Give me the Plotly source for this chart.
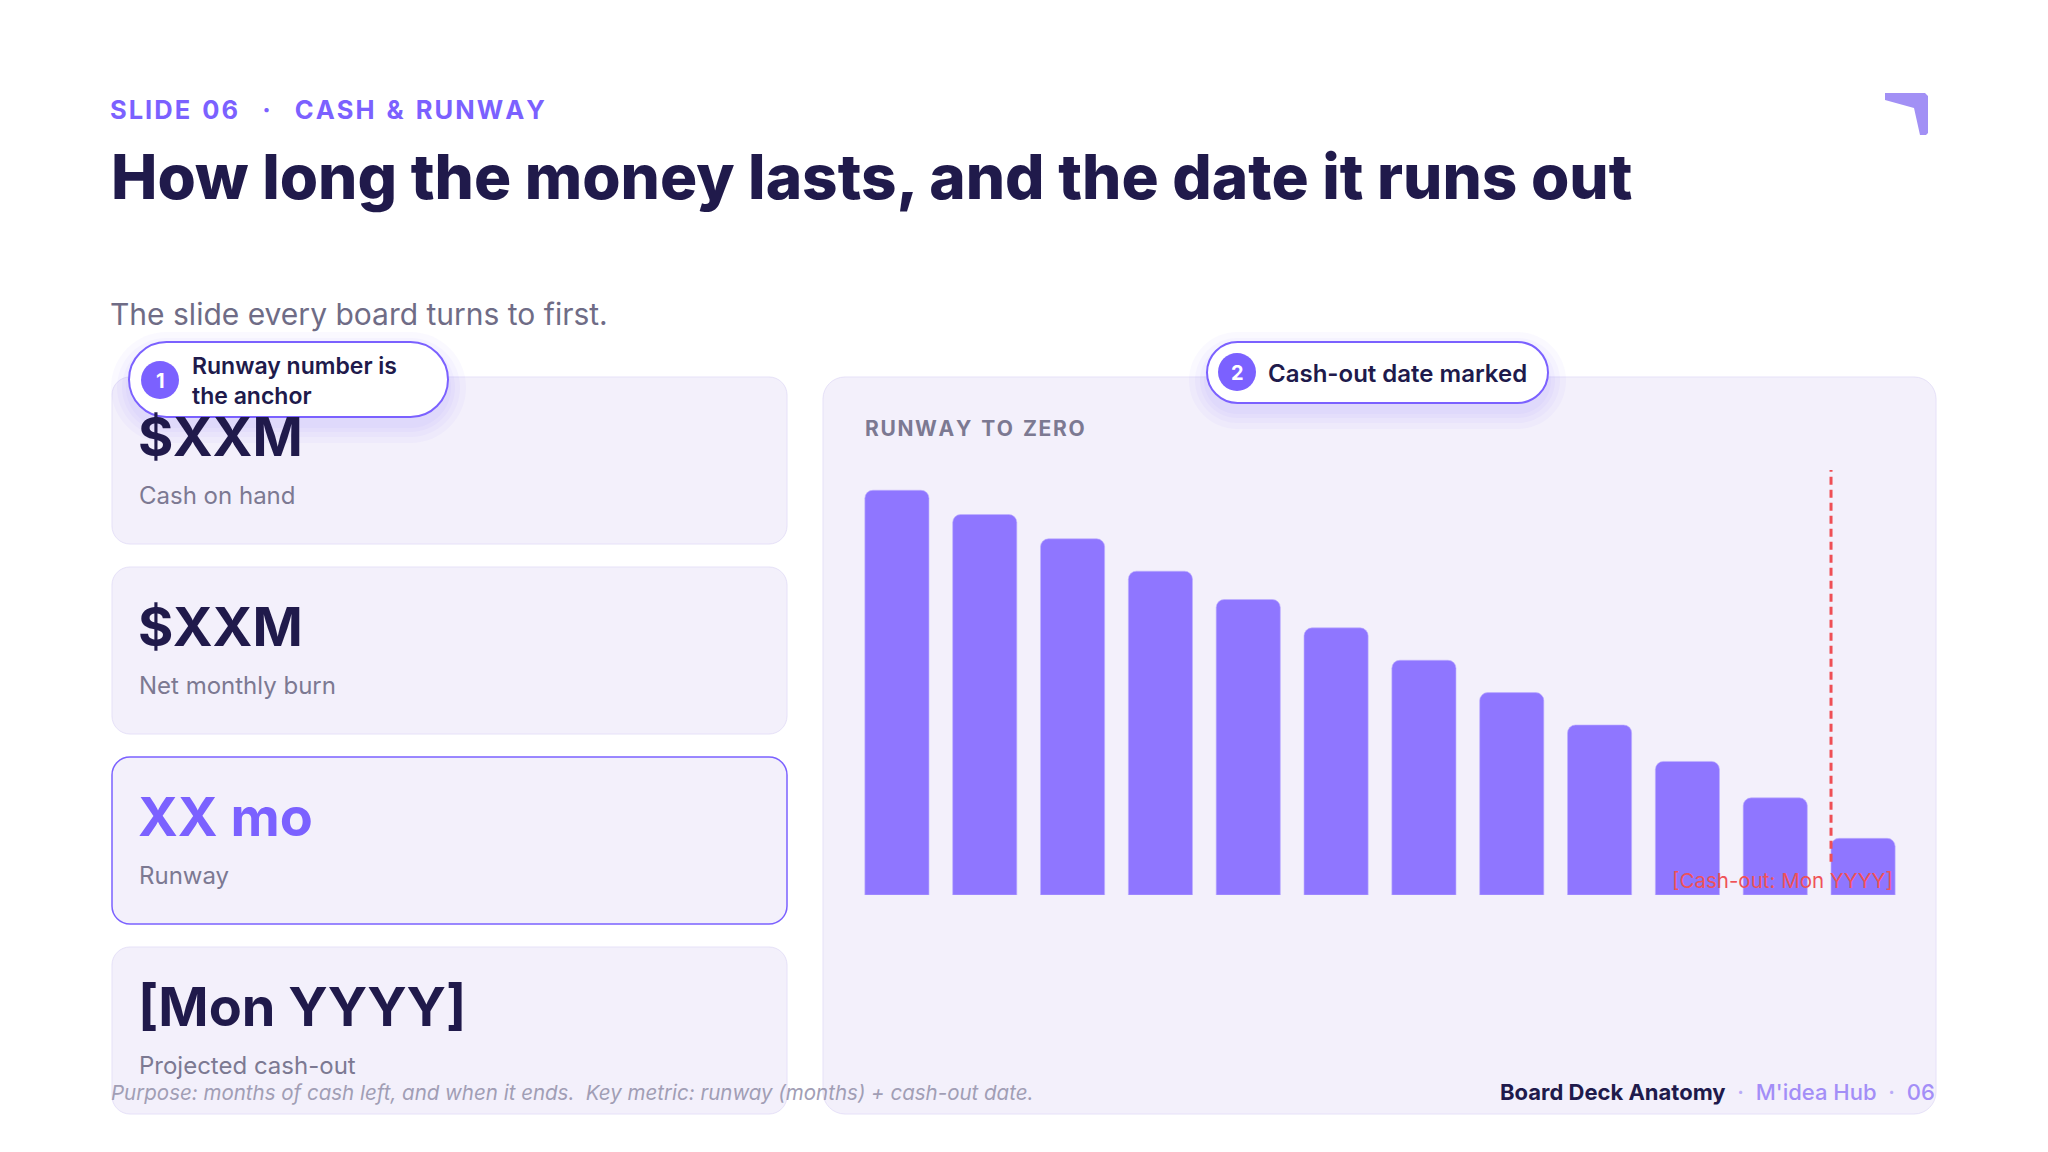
import plotly.graph_objects as go

# canvas size in px; everything outside the bar chart is placed in px and converted to paper
W, H = 2048, 1152
OFF = 8  # page margin of the html body

# chart data
months = ["M1", "M2", "M3", "M4", "M5", "M6", "M7", "M8", "M9", "M10", "M11", "M12"]
cash_m = [100, 94, 88, 80, 73, 66, 58, 50, 42, 33, 24, 14]
cashout_label = "[Cash-out: Mon YYYY]"

# KPI cards
card_values = ["$XXM", "$XXM", "XX mo", "[Mon YYYY]"]
card_labels = ["Cash on hand", "Net monthly burn", "Runway", "Projected cash-out"]
highlight_card = 2

# callouts
callouts = ["Runway number is<br>the anchor", "Cash-out date marked"]

FONT = "Inter"
DARK = "#201A4B"
PURPLE = "#7B61FF"
GRAY = "#7C7992"
CARD_FILL = "#F3F0FB"
CARD_LINE = "#E6E1F8"


def px(x):
    return (x - OFF) / W


def py(y):
    return 1 - (y - OFF) / H


def track(s):
    # letter-spaced caps labels
    return "\u200a".join(s).replace("\u200a \u200a", "  ").replace("&", "&amp;")


def rrect(x0, y0, x1, y1, r):
    k = 0.5523 * r
    pts = [
        f"M{px(x0 + r)},{py(y0)}",
        f"L{px(x1 - r)},{py(y0)}",
        f"C{px(x1 - r + k)},{py(y0)} {px(x1)},{py(y0 + r - k)} {px(x1)},{py(y0 + r)}",
        f"L{px(x1)},{py(y1 - r)}",
        f"C{px(x1)},{py(y1 - r + k)} {px(x1 - r + k)},{py(y1)} {px(x1 - r)},{py(y1)}",
        f"L{px(x0 + r)},{py(y1)}",
        f"C{px(x0 + r - k)},{py(y1)} {px(x0)},{py(y1 - r + k)} {px(x0)},{py(y1 - r)}",
        f"L{px(x0)},{py(y0 + r)}",
        f"C{px(x0)},{py(y0 + r - k)} {px(x0 + r - k)},{py(y0)} {px(x0 + r)},{py(y0)}",
        "Z",
    ]
    return " ".join(pts)


shapes = []
annotations = []


def text(x, y, s, size, color, weight=400, anchor="left", style="normal"):
    annotations.append(dict(
        x=px(x), y=py(y), xref="paper", yref="paper", text=s, showarrow=False,
        xanchor=anchor, yanchor="middle", align=anchor,
        font=dict(family=FONT, size=size, color=color, weight=weight, style=style),
    ))


# header
text(108, 109, track("SLIDE 06") + "    ·    " + track("CASH & RUNWAY"), 25.5, PURPLE, 700)
text(109, 177, "How long the money lasts, and the date it runs out", 62, DARK, 800)
text(108, 314, "The slide every board turns to first.", 30, "#6F6C86")

# logo mark top right
logo = [(1885, 93), (1925, 93), (1928, 96), (1928, 133), (1926, 135), (1920, 135), (1914, 108), (1885, 100)]
shapes.append(dict(
    type="path", xref="paper", yref="paper", layer="below",
    path="M" + " L".join(f"{px(a)},{py(b)}" for a, b in logo) + " Z",
    fillcolor="#A290F5", line=dict(width=0),
))

# left KPI cards
card_top = [377, 567, 757, 947]
for i, (val, lab) in enumerate(zip(card_values, card_labels)):
    t = card_top[i]
    hl = i == highlight_card
    shapes.append(dict(
        type="path", xref="paper", yref="paper", layer="below",
        path=rrect(112, t, 787, t + 167, 18), fillcolor=CARD_FILL,
        line=dict(color=PURPLE if hl else CARD_LINE, width=1.5 if hl else 1),
    ))
    text(136, t + 59, val, 54, PURPLE if hl else DARK, 700)
    text(137, t + 118, lab, 24, GRAY)

# right chart panel
shapes.append(dict(
    type="path", xref="paper", yref="paper", layer="below",
    path=rrect(823, 377, 1936, 1114, 22), fillcolor=CARD_FILL,
    line=dict(color=CARD_LINE, width=1),
))
text(863, 429, track("RUNWAY TO ZERO"), 21, GRAY, 700)

# callout pills with soft glow
pills = [(129, 342, 448, 417), (1207, 342, 1548, 403)]
for (x0, y0, x1, y1) in pills:
    for g in (18, 12, 7, 3):
        shapes.append(dict(
            type="path", xref="paper", yref="paper", layer="above",
            path=rrect(x0 - g, y0 - g + 8, x1 + g, y1 + g + 8, (y1 - y0) / 2 + g),
            fillcolor="rgba(123,97,255,0.035)", line=dict(width=0),
        ))
    shapes.append(dict(
        type="path", xref="paper", yref="paper", layer="above",
        path=rrect(x0, y0, x1, y1, (y1 - y0) / 2), fillcolor="white",
        line=dict(color=PURPLE, width=2),
    ))

badges = [(160, 380), (1237, 372)]
for n, (cx, cy) in enumerate(badges, start=1):
    shapes.append(dict(
        type="circle", xref="paper", yref="paper", layer="above",
        x0=px(cx - 19), x1=px(cx + 19), y0=py(cy + 19), y1=py(cy - 19),
        fillcolor=PURPLE, line=dict(width=0),
    ))
    text(cx, cy + 1, str(n), 20, "white", 700, anchor="center")

text(190, 381, callouts[0], 23, DARK, 600)
text(1266, 373, callouts[1], 24, DARK, 600)

# footer
text(109, 1092, "Purpose: months of cash left, and when it ends.  Key metric: runway (months) + cash-out date.",
     20.5, "#A19EB5", style="italic")
text(1937, 1092,
     "<b>Board Deck Anatomy</b><span style='color:#B9AAF7'>  ·  </span>"
     "<span style='color:#A38EF7'>M'idea Hub</span><span style='color:#B9AAF7'>  ·  </span>"
     "<span style='color:#A38EF7'>06</span>",
     22, DARK, 500, anchor="right")

# bars
fig = go.Figure()
fig.add_trace(go.Bar(
    x=months, y=cash_m,
    marker=dict(color="#8F76FF", cornerradius=8, line=dict(color="rgba(190,175,255,0.6)", width=1)),
    hoverinfo="x+y", showlegend=False,
))

# cash-out marker, just left of the last bar
shapes.append(dict(
    type="line", xref="x", yref="y domain", layer="above",
    x0=len(months) - 1 - 0.365, x1=len(months) - 1 - 0.365, y0=0.078, y1=1.0,
    line=dict(color="#EF4F55", width=3, dash="8px,5px"),
))
annotations.append(dict(
    x=len(months) - 1 + 0.365, y=0.033, xref="x", yref="y domain",
    text=cashout_label, showarrow=False, xanchor="right", yanchor="middle",
    font=dict(family=FONT, size=20.5, color="#EF5257"),
))

fig.update_layout(
    width=W, height=H,
    margin=dict(l=0, r=0, t=0, b=0),
    paper_bgcolor="white", plot_bgcolor="rgba(0,0,0,0)",
    bargap=0.27,
    xaxis=dict(domain=[px(853), px(1907)], showticklabels=False, showgrid=False,
               zeroline=False, showline=False, fixedrange=True),
    yaxis=dict(domain=[py(895), py(470)], range=[0, 105], showticklabels=False,
               showgrid=False, zeroline=False, showline=False, fixedrange=True),
    shapes=shapes, annotations=annotations,
    font=dict(family=FONT),
)

fig.write_html("out.html")
